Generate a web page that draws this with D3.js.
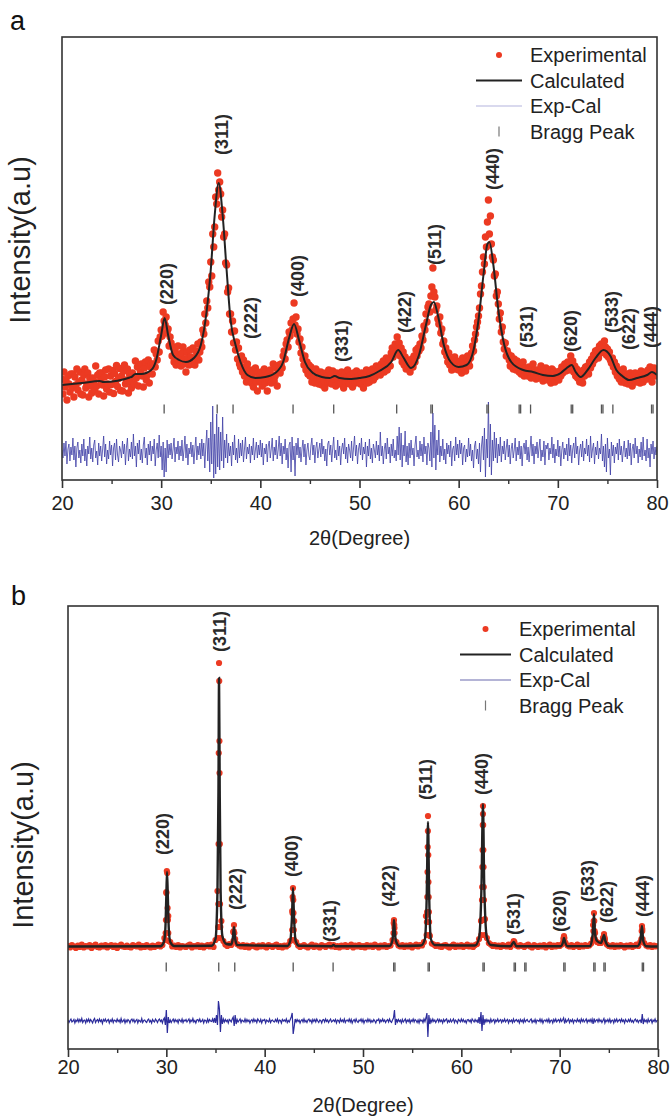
<!DOCTYPE html>
<html>
<head>
<meta charset="utf-8">
<script src="https://cdn.jsdelivr.net/npm/d3@7"></script>
<style>
  body { margin: 0; background: #fff; }
  svg { display: block; font-family: Arial, "Liberation Sans", sans-serif; }
</style>
</head>
<body>
<div id="chart"></div>
<script>
// ---- shared labels ----
var hkl = ["(220)", "(311)", "(222)", "(400)", "(331)", "(422)", "(511)", "(440)", "(531)", "(620)", "(533)", "(622)", "(444)"];
var legendNames = ["Experimental", "Calculated", "Exp-Cal", "Bragg Peak"];
var xTicks = [20, 30, 40, 50, 60, 70, 80];
var xMinor = [25, 35, 45, 55, 65, 75];

// ---- panel a : experimental, 20..80 step 0.1 ----
var aExp = [
  730,580,800,650,710,520,760,680,600,780,
  640,780,550,750,670,830,620,700,800,580,
  720,570,770,830,640,680,790,550,740,660,
  590,740,710,620,860,660,770,580,790,720,
  790,670,560,750,820,630,680,830,600,760,
  675,815,585,785,705,865,655,735,835,615,
  760,610,810,870,680,720,830,590,780,700,
  640,790,760,680,910,740,850,660,870,800,
  880,760,650,840,900,720,770,920,690,850,
  880,780,880,1020,850,980,920,1110,1000,1150,
  1220,1160,1400,1310,1270,1350,1190,1230,1060,1150,
  1090,960,1050,900,1010,870,980,1060,890,950,
  860,990,1050,880,930,800,1000,940,870,1020,
  950,880,1040,910,870,1010,960,1080,920,1000,
  1100,1050,1220,1180,1380,1290,1510,1440,1700,1650,
  1900,1760,2180,2050,2250,2550,2480,2790,2620,2700,
  2580,2350,2420,2150,2180,1890,1870,1600,1640,1380,
  1380,1200,1310,1090,1210,1020,1100,930,1040,880,
  850,960,800,920,760,850,700,880,790,730,
  820,690,780,650,730,840,700,610,790,760,
  700,800,660,760,830,690,740,610,780,720,
  820,690,770,880,710,760,840,660,800,870,
  790,880,840,960,1010,930,1080,1120,1050,1200,
  1160,1290,1220,1330,1490,1270,1350,1180,1230,1100,
  1130,990,1050,930,870,960,820,900,780,870,
  760,850,700,820,740,690,830,720,800,680,
  720,800,670,770,710,640,790,760,690,820,
  700,770,680,810,730,760,660,790,720,680,
  760,690,800,720,640,780,700,750,820,690,
  680,770,720,650,790,740,690,810,700,760,
  720,680,790,750,640,780,710,820,690,760,
  700,790,760,830,720,810,750,860,780,820,
  850,770,880,830,910,800,870,940,820,900,
  930,860,990,1040,950,1010,1080,990,1150,1060,
  1090,960,1040,900,1000,870,950,830,920,860,
  910,800,870,930,850,960,900,1020,960,1040,
  1010,1080,1040,1160,1120,1260,1220,1380,1300,1450,
  1480,1400,1560,1650,1840,1600,1550,1420,1460,1330,
  1280,1350,1190,1230,1080,1110,1000,1040,960,900,
  990,870,930,820,900,860,950,830,910,880,
  820,900,870,790,940,850,880,810,920,960,
  910,860,940,990,1060,1010,1120,1180,1250,1300,
  1360,1440,1580,1660,1800,1950,1880,2150,2050,2300,
  2520,2180,2360,2080,1950,1920,1760,1780,1560,1600,
  1480,1330,1390,1200,1250,1100,1030,1090,960,1010,
  980,920,860,960,900,830,930,870,820,910,
  880,800,850,780,870,900,760,840,810,790,
  760,850,790,740,830,880,770,820,730,800,
  820,740,800,860,750,710,800,780,840,730,
  720,800,760,690,830,740,810,700,780,750,
  780,720,810,760,850,790,830,880,810,860,
  900,820,880,960,840,910,800,860,760,830,
  740,810,700,780,720,690,820,760,850,800,
  860,780,900,840,930,880,970,920,1010,960,
  1020,940,1060,990,1080,1040,1000,1110,1050,970,
  1030,950,1000,920,890,940,850,900,800,860,
  760,820,730,790,700,760,830,720,690,780,
  750,680,730,790,700,660,760,720,790,700,
  780,710,760,690,810,740,700,770,730,800,
  730,820,780,850,760,700,810,840,790,760,
  780
];

// panel a : calculated profile [2theta, intensity]
var aCalc = [
  [20,670],[22,690],[23.8,710],[24.2,700],[27,750],[27.4,780],[28,780],[29,820],[29.5,920],
  [30,1170],[30.35,1340],[30.7,1170],[31.2,970],[31.8,920],[32.5,900],[33.3,940],[34,1070],
  [34.6,1420],[35,1820],[35.4,2370],[35.8,2690],[36.2,2370],[36.6,1820],[37,1320],[37.5,1070],
  [38,900],[38.7,770],[39.5,740],[40.5,750],[41.5,790],[42.3,900],[42.9,1140],[43.4,1280],
  [43.9,1120],[44.5,900],[45.3,790],[46.2,750],[47,740],[47.5,760],[48,740],[49,730],[50,740],
  [51,760],[52,810],[53.2,900],[53.9,1020],[54.4,950],[55.2,840],[56,970],[56.7,1270],
  [57.2,1470],[57.5,1500],[57.9,1370],[58.5,1070],[59.2,900],[60,850],[60.8,870],[61.5,1020],
  [62,1320],[62.5,1770],[62.9,2080],[63.1,2100],[63.5,1870],[64,1420],[64.6,1070],[65.3,900],
  [66.5,820],[67.5,800],[68.5,770],[69.5,760],[70.3,790],[70.9,840],[71.4,870],[71.8,800],
  [72.3,750],[73,820],[73.8,940],[74.6,1020],[75.3,960],[75.9,820],[76.5,760],[77.2,720],
  [78,740],[79,770],[79.5,800],[80,770]
];

// panel a : Exp-Cal, 20..80 step 0.1
var aDiff = [
  20,-60,90,-40,110,-120,30,80,-90,50,
  -30,140,-80,60,-150,40,100,-60,20,-110,
  80,-40,130,-90,30,-140,60,-20,150,-70,
  40,-100,70,120,-60,10,-130,90,-40,60,
  -90,30,160,-50,80,-120,20,-70,110,-30,
  70,-140,40,90,-80,130,-30,-100,60,20,
  -60,110,-20,80,-130,50,140,-90,30,-50,
  100,-70,180,-40,60,-150,90,-20,120,-80,
  30,-110,70,150,-60,40,-130,80,-30,110,
  -90,60,-20,130,-140,20,90,-60,170,-50,
  60,-180,100,-250,40,-200,120,-60,80,-30,
  90,-70,30,140,-100,50,-20,110,-80,60,
  -40,120,-90,20,160,-60,80,-130,40,-20,
  100,-50,70,-120,30,150,-80,60,-30,90,
  -70,130,-40,90,-160,60,220,-90,140,-200,
  300,-120,460,-260,180,-220,380,-150,250,-180,
  200,-90,350,-160,120,-60,180,-110,90,-40,
  60,-140,100,-30,170,-80,40,-110,130,-60,
  90,-40,120,-100,30,150,-70,50,-20,80,
  -110,60,-30,140,-80,20,100,-60,70,-30,
  120,-50,90,-130,40,-20,80,-100,60,110,
  -60,30,140,-90,50,-30,120,-70,20,160,
  -40,90,-120,60,-20,130,-80,40,-160,70,
  100,-200,150,-80,60,-240,90,-30,140,-60,
  50,-100,30,120,-50,80,-130,20,90,-40,
  -80,60,140,-30,70,-110,40,100,-60,20,
  90,-50,130,-20,60,-90,30,-140,80,110,
  -30,70,-100,40,150,-60,20,-80,120,-40,
  60,-130,30,90,-20,140,-70,50,-110,80,
  20,-60,110,-90,40,160,-40,70,-120,30,
  90,-30,140,-80,50,-20,100,-150,60,-40,
  130,-70,40,-110,80,20,-60,110,-30,70,
  -90,200,-40,60,-120,30,90,-70,140,-20,
  50,-110,80,-40,130,-60,20,-90,160,-30,
  250,-80,190,-150,70,-40,210,-100,60,-130,
  90,-60,120,-30,40,-140,70,160,-50,20,
  -70,110,-40,80,-100,150,-20,60,-130,90,
  40,-90,200,-150,390,-60,270,-180,120,-30,
  220,-100,60,-40,130,-80,30,-120,90,-20,
  70,-50,110,-140,30,60,-90,150,-30,80,
  -60,120,-20,90,-130,40,70,-100,30,-50,
  140,-40,80,-90,20,-160,60,110,-70,30,
  -120,90,-200,60,160,-80,240,-250,130,-60,
  500,-150,280,-230,120,-90,200,-60,140,-110,
  80,-40,150,-100,60,-20,110,-80,40,130,
  -50,70,-120,30,90,-60,20,140,-90,50,
  -30,110,-70,60,-140,40,90,-20,120,-80,
  50,-100,30,160,-40,80,-120,60,-20,100,
  -60,40,130,-90,20,-50,110,-130,70,30,
  90,-80,40,-20,150,-60,80,-110,30,-40,
  120,-50,60,-140,20,100,-70,40,-30,80,
  -90,140,-40,70,-110,30,90,-60,150,-20,
  60,-130,20,80,-50,110,-90,40,-20,130,
  -40,70,-100,160,-60,30,90,-120,50,-30,
  110,-70,40,-20,180,-90,60,-150,80,-200,
  140,-60,30,-230,100,-40,70,-110,50,-20,
  90,-80,130,-30,60,-100,20,110,-50,40,
  -70,120,-40,90,-130,30,80,-60,140,-20,
  60,-110,30,-50,100,-80,150,-40,20,-90,
  130,-60,40,-150,80,-20,110,-70,50,-30,
  60
];

var aBragg = [30.3, 35.65, 37.25, 43.3, 47.4, 53.75, 57.2, 57.35, 62.85, 63.0, 66.1, 66.25, 67.25,
  71.35, 71.5, 74.4, 74.55, 75.55, 79.45, 79.6];
var aLabelTheta = [30.6, 36.1, 39.0, 43.8, 48.2, 54.6, 57.6, 63.4, 66.9, 71.3, 75.4, 77.1, 79.4];
var aLabelLevel = [1470, 2970, 1130, 1550, 900, 1190, 1870, 2620, 1040, 1000, 1190, 1020, 1040];

// ---- panel b : experimental background scan, 20..80 step 0.2 ----
var bExpScan = [
  750,735,760,745,730,755,740,765,735,750,
  745,760,730,750,765,740,735,755,745,760,
  735,750,760,740,755,730,750,765,745,740,
  755,740,735,760,750,745,765,735,750,740,
  760,745,735,755,740,750,765,745,760,830,
  1290,1050,790,745,755,740,760,735,750,745,
  740,755,765,735,750,745,760,740,755,735,
  750,760,745,765,740,810,1300,2800,1000,800,
  765,750,770,760,890,820,770,755,745,760,
  740,755,735,750,760,745,735,755,745,760,
  745,735,760,750,740,755,765,740,750,735,
  755,745,760,800,1100,1000,790,755,740,750,
  760,745,735,750,765,740,755,745,735,760,
  750,740,755,765,745,760,740,750,735,755,
  745,760,740,750,765,735,755,745,760,740,
  750,735,760,745,755,740,765,750,735,755,
  745,760,740,750,755,810,930,790,755,745,
  760,740,755,745,760,735,750,765,745,760,
  755,790,1050,1900,850,775,765,750,760,745,
  740,755,760,745,735,750,765,740,755,745,
  760,740,750,765,745,755,740,760,770,820,
  1000,2150,1020,830,780,765,750,760,745,755,
  740,760,750,745,765,740,770,790,755,745,
  760,750,740,755,765,745,735,760,750,740,
  755,745,760,735,750,765,740,755,745,760,
  750,765,820,780,755,745,760,740,750,765,
  740,755,745,760,750,755,775,960,880,790,
  780,780,830,820,765,750,745,760,740,755,
  745,760,750,735,755,745,760,740,750,765,
  750,790,920,780,755,745,760,740,755,745,
  750
];

// panel b : extra experimental points on the peaks [2theta, intensity]
var bExpPeaks = [
  [30.05,1500],[30.09,1480],[30.0,1280],[30.13,1130],[29.96,1010],[30.16,1010],[29.93,880],[30.2,880],[29.9,810],[30.23,800],
  [35.36,3580],[35.38,3400],[35.33,2680],[35.41,2480],[35.31,1770],[35.44,1770],[35.29,1170],[35.46,1170],[35.27,940],[35.49,940],[35.24,830],[35.52,830],
  [36.88,960],[36.85,900],[36.92,880],[36.82,800],[36.95,810],
  [42.88,1330],[42.85,1240],[42.91,1210],[42.83,1080],[42.93,1080],[42.8,910],[42.96,910],[42.78,810],[42.99,810],
  [53.15,1010],[53.12,980],[53.18,960],[53.1,880],[53.21,880],[53.06,800],[53.25,800],
  [56.61,2050],[56.58,1740],[56.64,1660],[56.56,1490],[56.66,1390],[56.54,1240],[56.68,1240],[56.52,1090],[56.7,1090],[56.5,990],[56.72,990],[56.47,860],[56.75,860],
  [62.2,2070],[62.18,1960],[62.22,1960],[62.16,1710],[62.24,1710],[62.14,1540],[62.26,1540],[62.12,1340],[62.28,1340],[62.1,1210],[62.3,1210],[62.07,1010],[62.33,1010],[62.03,860],[62.37,860],
  [65.33,800],[65.3,780],
  [70.44,850],[70.4,830],[70.48,830],[70.36,790],[70.52,790],
  [73.49,1080],[73.46,1000],[73.52,1000],[73.43,900],[73.55,900],[73.4,820],[73.58,820],
  [74.51,870],[74.47,840],[74.55,840],[74.44,800],[74.58,800],
  [78.37,950],[78.34,900],[78.4,900],[78.31,820],[78.43,820]
];

// panel b : calculated profile [2theta, intensity]
var bCalc = [
  [20,745],[29.4,748],[29.75,790],[29.9,920],[30.0,1250],[30.07,1490],[30.15,1250],[30.25,920],[30.4,790],[30.8,750],
  [34.6,752],[35.0,820],[35.2,1300],[35.3,2300],[35.36,3430],[35.43,2300],[35.52,1300],[35.7,850],[36.1,770],
  [36.6,765],[36.75,820],[36.88,940],[37.0,820],[37.2,760],
  [42.3,750],[42.6,800],[42.78,1050],[42.88,1330],[42.98,1050],[43.15,800],[43.5,752],
  [46.8,748],[47.0,760],[47.2,748],
  [52.7,750],[52.98,800],[53.08,900],[53.15,1010],[53.23,900],[53.35,800],[53.7,750],
  [55.9,755],[56.3,820],[56.48,1250],[56.61,1990],[56.73,1250],[56.9,820],[57.3,760],
  [61.4,755],[61.8,830],[62.05,1350],[62.2,2170],[62.33,1350],[62.6,830],[63.0,760],
  [65.0,748],[65.33,790],[65.6,748],
  [70.1,748],[70.35,790],[70.44,830],[70.55,790],[70.8,748],
  [73.1,750],[73.35,860],[73.49,1070],[73.6,870],[73.8,800],[74.2,780],[74.4,830],[74.51,860],[74.65,800],[75.0,750],
  [77.9,748],[78.2,800],[78.37,950],[78.5,800],[78.8,748],[80,745]
];

// panel b : Exp-Cal, 20..80 step 0.1
var bDiff = [
  10,-15,5,20,-10,0,15,-20,10,-5,
  20,-10,15,-5,25,-15,5,10,-20,15,
  -5,20,-10,15,0,-20,10,25,-15,5,
  15,-10,20,-5,10,-25,15,0,20,-10,
  5,15,-20,10,-5,20,-15,10,5,-10,
  20,-5,10,-15,25,-10,0,15,-20,10,
  -10,15,5,-20,10,20,-5,15,-15,5,
  15,-20,10,0,-10,25,-15,5,10,-5,
  -15,10,20,-10,5,-20,15,0,-10,20,
  5,-15,10,20,-5,10,-20,15,30,-40,
  110,-120,40,-20,10,-15,5,20,-10,15,
  -5,10,-20,15,5,-10,20,-15,10,0,
  15,-10,5,20,-15,10,-5,25,-10,5,
  -20,10,15,-5,20,-10,0,15,-20,10,
  5,-15,20,-10,15,0,-5,20,-15,30,
  -20,60,-40,200,120,-110,60,-30,20,-10,
  15,-5,10,-20,15,5,-10,20,40,-50,
  60,-30,15,-10,5,20,-15,10,0,-10,
  20,-10,15,-5,10,-20,5,15,-10,20,
  -5,10,-15,20,5,-10,15,-20,10,5,
  15,-20,10,0,-10,20,-15,5,10,-5,
  -10,15,-5,20,-15,10,5,-20,15,0,
  10,-5,20,-15,5,-10,15,40,80,-130,
  -60,20,-10,15,-5,10,-20,5,15,-10,
  20,-10,5,-15,10,20,-5,10,-20,15,
  -5,15,-10,20,0,-15,10,5,-20,10,
  15,-10,20,-5,10,-15,5,20,-10,0,
  10,-5,15,-20,10,5,-15,20,-5,10,
  -10,20,-15,5,10,-5,20,-10,15,-20,
  5,15,-10,20,-5,-15,10,0,20,-10,
  15,-20,5,10,-10,20,-5,15,-15,5,
  -10,15,0,-20,10,5,20,-15,10,-5,
  20,-5,10,-15,5,15,-10,20,-5,-15,
  10,30,110,-40,20,-10,15,-5,10,-20,
  15,-10,5,20,-15,10,-5,15,-20,10,
  -5,20,-10,15,5,-15,10,-20,15,0,
  10,-15,20,-5,30,80,-160,60,-30,15,
  -10,20,-5,10,-15,5,20,-10,15,-5,
  10,-20,15,-5,10,20,-15,5,-10,15,
  -10,5,20,-15,10,0,-20,15,5,-10,
  20,-5,15,-10,5,-20,10,15,-5,10,
  -15,20,5,-10,15,-5,10,-20,40,-30,
  90,-100,60,-40,20,-10,15,-5,10,-15,
  20,-10,5,15,-20,10,-5,20,-10,5,
  15,-15,10,-5,20,-10,5,15,-20,10,
  -5,10,-15,20,-10,5,15,-5,10,-20,
  15,-5,10,-15,20,-10,5,15,-5,-10,
  10,20,-15,5,-10,15,-20,10,5,-5,
  20,-10,15,-20,5,10,-5,15,-10,20,
  -15,5,10,-20,15,-5,20,-10,5,15,
  -10,20,-5,10,30,-25,15,-10,5,20,
  -15,10,-5,15,-20,10,5,-10,20,-5,
  10,-15,20,-5,15,-10,5,20,-15,10,
  -5,15,-10,20,-30,25,-10,5,15,-10,
  20,-5,10,-15,5,25,-20,10,-5,15,
  -10,20,-15,5,10,-20,15,-5,20,-10,
  5,15,-10,20,-5,10,-20,15,0,-10,
  15,-5,20,-10,5,-15,10,20,-5,10,
  -15,5,10,-20,70,-30,15,-5,10,-15,
  20,-10,5,15,-20,10,-5,20,-10,5,
  10
];

var bBragg = [29.99, 35.33, 36.96, 42.9, 46.96, 53.12, 53.25, 56.62, 56.75, 62.2, 62.33, 65.37, 65.5,
  66.45, 66.58, 70.42, 70.55, 73.47, 73.6, 74.5, 74.63, 78.4, 78.53];
var bLabelTheta = [29.66, 35.46, 37.09, 42.78, 46.64, 52.65, 56.41, 62.1, 65.36, 70.03, 72.88, 74.82, 78.48];
var bLabelLevel = [1660, 3690, 1110, 1440, 790, 1140, 2210, 2260, 860, 890, 1190, 980, 1040];

// ---- drawing ----
var W = 670, H = 1119;
var svg = d3.select("#chart").append("svg").attr("width", W).attr("height", H);

function drawPanel(p) {
  var x = d3.scaleLinear().domain([20, 80]).range([p.left, p.right]);
  var y = d3.scaleLinear().domain([-280, 4150]).range([p.bottom, p.top]);
  var g = svg.append("g");

  var clipId = "clip-" + p.name;
  svg.append("clipPath").attr("id", clipId)
    .append("rect").attr("x", p.left).attr("y", p.top)
    .attr("width", p.right - p.left).attr("height", p.bottom - p.top);
  var plot = g.append("g").attr("clip-path", "url(#" + clipId + ")");

  // difference curve
  plot.append("path")
    .datum(p.diff)
    .attr("fill", "none")
    .attr("stroke", p.diffColor)
    .attr("stroke-width", p.diffWidth)
    .attr("d", d3.line()
      .x(function (d, i) { return x(20 + i * 0.1); })
      .y(function (d) { return y(d); }));

  // Bragg ticks
  plot.selectAll("line.bragg")
    .data(p.bragg)
    .enter().append("line")
    .attr("class", "bragg")
    .attr("x1", function (d) { return x(d); })
    .attr("x2", function (d) { return x(d); })
    .attr("y1", y(p.braggLevel) - 4.5)
    .attr("y2", y(p.braggLevel) + 4.5)
    .attr("stroke", "#555")
    .attr("stroke-width", 1.3);

  // experimental points
  plot.selectAll("circle.exp")
    .data(p.exp)
    .enter().append("circle")
    .attr("class", "exp")
    .attr("cx", function (d) { return x(d[0]); })
    .attr("cy", function (d) { return y(d[1]); })
    .attr("r", p.dotR)
    .attr("fill", "#ec3a22");

  // calculated line
  plot.append("path")
    .datum(p.calc)
    .attr("fill", "none")
    .attr("stroke", "#222")
    .attr("stroke-width", p.calcWidth)
    .attr("d", d3.line()
      .curve(d3.curveMonotoneX)
      .x(function (d) { return x(d[0]); })
      .y(function (d) { return y(d[1]); }));

  // frame
  g.append("rect")
    .attr("x", p.left).attr("y", p.top)
    .attr("width", p.right - p.left).attr("height", p.bottom - p.top)
    .attr("fill", "none").attr("stroke", "#333").attr("stroke-width", 1.6);

  // x axis
  var ax = g.append("g").attr("transform", "translate(0," + p.bottom + ")")
    .call(d3.axisBottom(x).tickValues(xTicks).tickSize(8).tickPadding(p.tickPad).tickFormat(d3.format("d")));
  ax.select(".domain").remove();
  ax.selectAll("line").attr("stroke", "#333").attr("stroke-width", 1.6);
  ax.selectAll("text").attr("font-size", 20).attr("fill", "#222")
    .attr("font-family", "Arial, 'Liberation Sans', sans-serif");
  var axm = g.append("g").attr("transform", "translate(0," + p.bottom + ")")
    .call(d3.axisBottom(x).tickValues(xMinor).tickSize(4).tickFormat(""));
  axm.select(".domain").remove();
  axm.selectAll("line").attr("stroke", "#333").attr("stroke-width", 1.4);

  // axis titles
  g.append("text")
    .attr("x", (p.left + p.right) / 2).attr("y", p.titleY)
    .attr("text-anchor", "middle").attr("font-size", 20).attr("fill", "#222")
    .text("2\u03b8(Degree)");
  g.append("text")
    .attr("transform", "translate(" + p.ylabX + "," + p.ylabY + ") rotate(-90)")
    .attr("text-anchor", "middle").attr("font-size", 29).attr("fill", "#222")
    .text("Intensity(a.u)");

  // panel letter
  g.append("text").attr("x", p.letterX).attr("y", p.letterY)
    .attr("font-size", 27).attr("fill", "#111").text(p.name);

  // hkl labels
  g.selectAll("text.hkl")
    .data(hkl)
    .enter().append("text")
    .attr("class", "hkl")
    .attr("transform", function (d, i) {
      return "translate(" + x(p.labelTheta[i]) + "," + y(p.labelLevel[i]) + ") rotate(-90)";
    })
    .attr("dy", "0.35em")
    .attr("font-size", 18).attr("font-weight", "bold").attr("fill", "#2a2a2a")
    .text(function (d) { return d; });

  // legend
  var lg = g.append("g");
  legendNames.forEach(function (name, i) {
    var ly = p.legTop + i * p.legGap;
    var mid = (p.legX0 + p.legX1) / 2;
    if (i === 0) {
      lg.append("circle").attr("cx", mid).attr("cy", ly).attr("r", 3).attr("fill", "#ec3a22");
    } else if (i === 1) {
      lg.append("line").attr("x1", p.legX0).attr("x2", p.legX1).attr("y1", ly).attr("y2", ly)
        .attr("stroke", "#222").attr("stroke-width", 2.2);
    } else if (i === 2) {
      lg.append("line").attr("x1", p.legX0).attr("x2", p.legX1).attr("y1", ly).attr("y2", ly)
        .attr("stroke", p.legDiffColor).attr("stroke-width", 1.2);
    } else {
      lg.append("line").attr("x1", mid).attr("x2", mid).attr("y1", ly - 5).attr("y2", ly + 5)
        .attr("stroke", "#777").attr("stroke-width", 1.2);
    }
    lg.append("text").attr("x", p.legX1 + 8).attr("y", ly).attr("dy", "0.35em")
      .attr("font-size", 20).attr("fill", "#222").text(name);
  });
}

// panel a
drawPanel({
  name: "a", left: 62, right: 657, top: 37, bottom: 480,
  exp: aExp.map(function (v, i) { return [20 + i * 0.1, v]; }),
  calc: aCalc, diff: aDiff, bragg: aBragg, braggLevel: 430,
  labelTheta: aLabelTheta, labelLevel: aLabelLevel,
  dotR: 3.7, calcWidth: 2, diffColor: "#3e3ea6", diffWidth: 0.8,
  tickPad: 8, titleY: 545, ylabX: 30, ylabY: 240,
  letterX: 10, letterY: 30,
  legX0: 476, legX1: 522, legTop: 55, legGap: 25.5, legDiffColor: "#b4b4de"
});

// panel b
drawPanel({
  name: "b", left: 68, right: 658, top: 606, bottom: 1049,
  exp: bExpScan.map(function (v, i) { return [20 + i * 0.2, v]; }).concat(bExpPeaks),
  calc: bCalc, diff: bDiff, bragg: bBragg, braggLevel: 540,
  labelTheta: bLabelTheta, labelLevel: bLabelLevel,
  dotR: 3.1, calcWidth: 2.4, diffColor: "#2c2c9c", diffWidth: 1.2,
  tickPad: 3, titleY: 1112, ylabX: 33, ylabY: 845,
  letterX: 11, letterY: 605,
  legX0: 460, legX1: 511, legTop: 629, legGap: 25.5, legDiffColor: "#6a6aae"
});
</script>
</body>
</html>
